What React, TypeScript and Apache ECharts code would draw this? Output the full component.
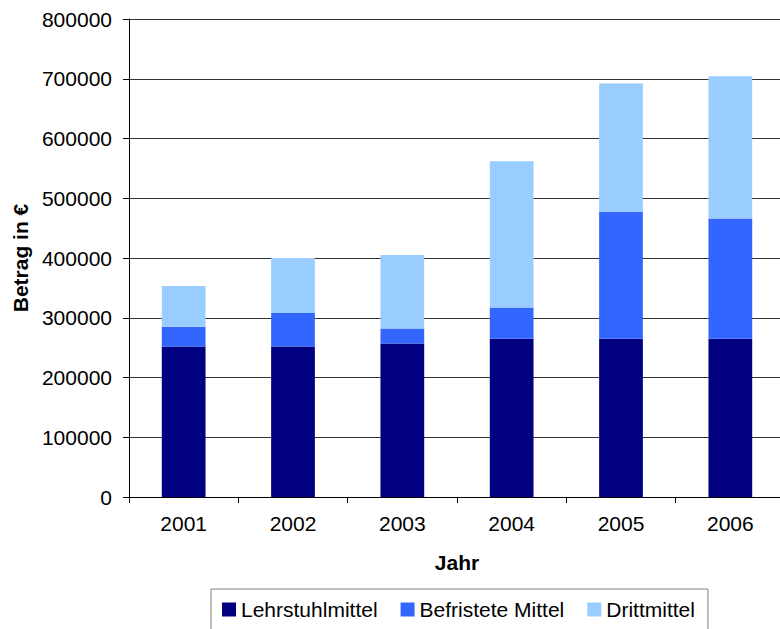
import React, { useEffect, useRef } from "react";
import * as echarts from "echarts";

const years = ["2001", "2002", "2003", "2004", "2005", "2006"];
const lehrstuhlmittel = [252000, 252000, 257000, 265000, 265000, 265000];
const befristeteMittel = [33000, 56000, 25000, 52000, 212000, 201000];
const drittmittel = [68000, 92000, 123000, 245000, 215000, 238000];

const FONT = "'Liberation Sans', Arial, sans-serif";

export default function App() {
  const ref = useRef<HTMLDivElement>(null);

  useEffect(() => {
    if (!ref.current) return;
    const chart = echarts.init(ref.current, undefined, { renderer: "svg" });
    const bar = (name: string, data: number[], color: string) => ({
      name,
      type: "bar",
      stack: "total",
      barWidth: "40%",
      data,
      itemStyle: { color },
    });
    chart.setOption({
      animation: false,
      backgroundColor: "#ffffff",
      textStyle: { fontFamily: FONT },
      grid: { left: 129, top: 19, width: 656, height: 478 },
      legend: {
        left: 211,
        top: 589,
        orient: "horizontal",
        icon: "rect",
        itemWidth: 14,
        itemHeight: 14,
        itemGap: 23,
        padding: [10, 13, 60, 11],
        borderColor: "#808080",
        borderWidth: 1,
        textStyle: { fontFamily: FONT, fontSize: 21, color: "#000" },
        data: ["Lehrstuhlmittel", "Befristete Mittel", "Drittmittel"],
      },
      xAxis: {
        type: "category",
        data: years,
        name: "Jahr",
        nameLocation: "middle",
        nameGap: 55,
        nameTextStyle: { fontFamily: FONT, fontSize: 21, fontWeight: "bold", color: "#000" },
        axisLine: { lineStyle: { color: "#000", width: 1 } },
        axisTick: { show: true, length: 6, lineStyle: { color: "#000" } },
        axisLabel: { fontFamily: FONT, fontSize: 21, color: "#000", margin: 16 },
      },
      yAxis: {
        type: "value",
        min: 0,
        max: 800000,
        interval: 100000,
        name: "Betrag in €",
        nameLocation: "middle",
        nameGap: 98,
        nameTextStyle: { fontFamily: FONT, fontSize: 21, fontWeight: "bold", color: "#000" },
        axisLine: { show: true, lineStyle: { color: "#000", width: 1 } },
        axisTick: { show: true, length: 6, lineStyle: { color: "#000" } },
        axisLabel: {
          fontFamily: FONT,
          fontSize: 21,
          color: "#000",
          margin: 17,
          formatter: (v: number) => String(v),
        },
        splitLine: { show: true, lineStyle: { color: "#333", width: 1 } },
      },
      series: [
        bar("Lehrstuhlmittel", lehrstuhlmittel, "#000080"),
        bar("Befristete Mittel", befristeteMittel, "#3366FF"),
        bar("Drittmittel", drittmittel, "#99CCFF"),
      ],
    });
    return () => chart.dispose();
  }, []);

  return (
    <div
      style={{
        position: "fixed",
        left: 0,
        top: 0,
        width: 780,
        height: 629,
        overflow: "hidden",
        background: "#fff",
      }}
    >
      <div ref={ref} style={{ width: 800, height: 629 }} />
    </div>
  );
}
